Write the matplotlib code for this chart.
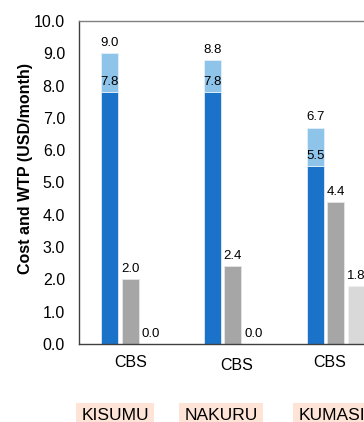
import numpy as np
import matplotlib
matplotlib.use("Agg")
import matplotlib.pyplot as plt

plt.rcParams['font.family'] = ['Liberation Sans', 'DejaVu Sans']

# data
cities = ["KISUMU", "NAKURU", "KUMASI"]
scheme = ["CBS", "CBS", "CBS"]
cost_low = np.array([7.8, 7.8, 5.5])
cost_high = np.array([9.0, 8.8, 6.7])
wtp_a = np.array([2.0, 2.4, 4.4])
wtp_b = np.array([0.0, 0.0, 1.8])

dark_blue = "#1a72c9"
light_blue = "#8ec4e9"
grey = "#a6a6a6"
light_grey = "#d9d9d9"
peach = "#fde4d6"

fig = plt.figure(figsize=(3.64, 4.22), dpi=100)
# axes runs off the right edge (chart is cropped there)
ax = fig.add_axes([79/364, 78/422, 411/364, 323/422])

x = np.arange(len(cities))
off = 0.2
w = 0.165

ax.bar(x - off, cost_low, w, color=dark_blue, edgecolor="#dfe9f5", linewidth=0.6, zorder=2)
ax.bar(x - off, cost_high - cost_low, w, bottom=cost_low, color=light_blue,
       edgecolor="#e3f0fa", linewidth=0.6, zorder=2)
ax.bar(x, wtp_a, w, color=grey, edgecolor="#e6e6e6", linewidth=0.6, zorder=2)
ax.bar(x + off, wtp_b, w, color=light_grey, edgecolor="#f0f0f0", linewidth=0.6, zorder=2)

def lab(xs, vals):
    for xi, v in zip(xs, vals):
        ax.annotate(f"{v:.1f}", (xi, v), xytext=(0, 3), textcoords="offset points",
                    ha="center", va="bottom", fontsize=9.5)

lab(x - off, cost_low)
lab(x - off, cost_high)
lab(x, wtp_a)
lab(x + off, wtp_b)

ax.set_xlim(-0.497, 3.5)
ax.set_ylim(0, 10)
ax.set_yticks(np.arange(0, 10.01, 1))
ax.set_yticklabels([f"{v:.1f}" for v in np.arange(0, 10.01, 1)], fontsize=11.5)
ax.tick_params(axis="y", length=0, pad=10)
ax.set_xticks([])
ax.set_ylabel("Cost and WTP (USD/month)", fontsize=11.5, fontweight="bold")
ax.yaxis.set_label_coords(-0.112, 0.542)

for s in ["left", "bottom"]:
    ax.spines[s].set_color("#404040")
    ax.spines[s].set_linewidth(1.0)
ax.spines["top"].set_color("#808080")
ax.spines["top"].set_linewidth(1.0)
ax.spines["right"].set_visible(False)

# category labels under the groups
cbs_dx = [0.01, 0.04, -0.06]
cbs_dy = [-0.056, -0.068, -0.056]
for i in range(len(cities)):
    ax.text(x[i] + cbs_dx[i], cbs_dy[i], scheme[i], transform=ax.get_xaxis_transform(),
            ha="center", va="center", fontsize=11.5)

city_x = [115, 221, 332]
for cx, name in zip(city_x, cities):
    fig.text(cx/364, 2/422, name, ha="center", va="baseline", fontsize=12.5,
             bbox=dict(boxstyle="square,pad=0.3", facecolor=peach, edgecolor="none"))

fig.savefig("out.png", dpi=100)
